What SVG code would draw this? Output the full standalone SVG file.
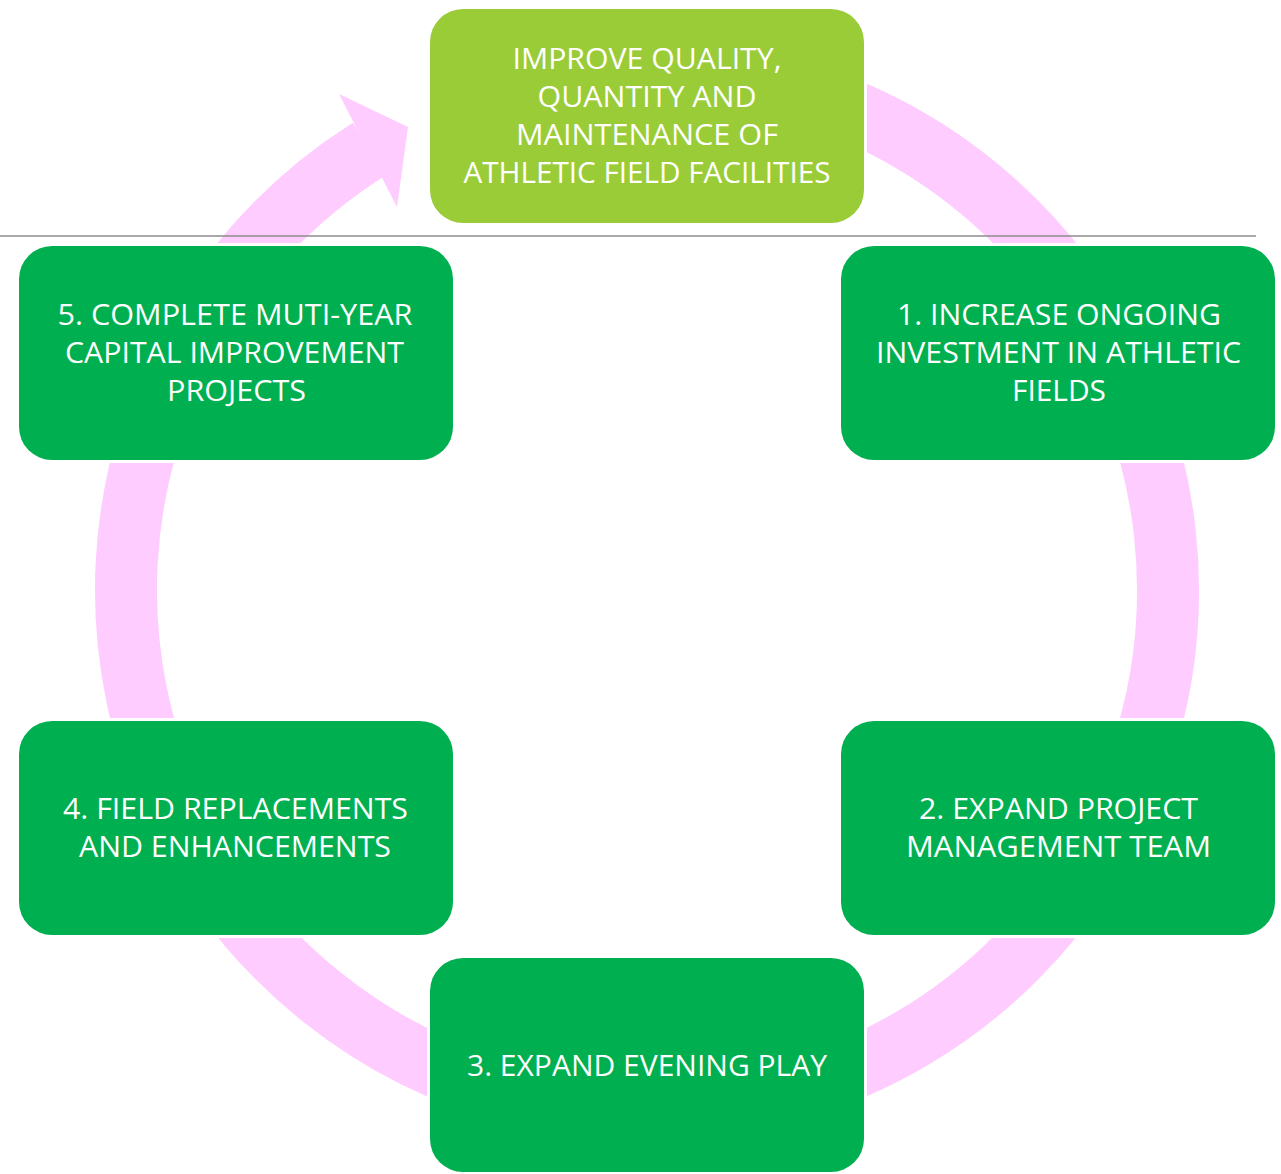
<svg xmlns="http://www.w3.org/2000/svg" width="1281" height="1174" viewBox="0 0 1281 1174">
<style>
.box{fill:#00B050;stroke:#FFFFFF;stroke-width:6;paint-order:stroke fill;}
.top{fill:#9ACC38;}
.t{font-family:"Open Sans","Liberation Sans",sans-serif;font-size:30px;fill:#FFFFFF;text-anchor:middle;}
.ring{fill:none;stroke:#FFCCFF;stroke-width:62;}
</style>
<rect width="1281" height="1174" fill="#FFFFFF"/>
<g id="connectors">
<path class="ring" d="M 647 69 A 521 521 0 1 1 369.4 149.1"/>
<polygon points="339,94 408,127 397,207" fill="#FFCCFF"/>
</g>
<line x1="0" y1="236" x2="1256" y2="236" stroke="#8C8C8C" stroke-width="1.5"/>
<g id="node-goal">
<rect class="box top" x="430" y="9" width="434" height="214" rx="33"/>
<text class="t" x="647" y="69" textLength="269" lengthAdjust="spacingAndGlyphs">IMPROVE QUALITY,</text>
<text class="t" x="647" y="107" textLength="219" lengthAdjust="spacingAndGlyphs">QUANTITY AND</text>
<text class="t" x="647" y="145" textLength="262" lengthAdjust="spacingAndGlyphs">MAINTENANCE OF</text>
<text class="t" x="647" y="183" textLength="367" lengthAdjust="spacingAndGlyphs">ATHLETIC FIELD FACILITIES</text>
</g>
<g id="node-1">
<rect class="box" x="841" y="246" width="434" height="214" rx="33"/>
<text class="t" x="1059" y="325" textLength="324" lengthAdjust="spacingAndGlyphs">1. INCREASE ONGOING</text>
<text class="t" x="1058.5" y="363" textLength="365" lengthAdjust="spacingAndGlyphs">INVESTMENT IN ATHLETIC</text>
<text class="t" x="1059" y="401" textLength="94" lengthAdjust="spacingAndGlyphs">FIELDS</text>
</g>
<g id="node-2">
<rect class="box" x="841" y="721" width="434" height="214" rx="33"/>
<text class="t" x="1058.5" y="819" textLength="279" lengthAdjust="spacingAndGlyphs">2. EXPAND PROJECT</text>
<text class="t" x="1058.5" y="857" textLength="305" lengthAdjust="spacingAndGlyphs">MANAGEMENT TEAM</text>
</g>
<g id="node-3">
<rect class="box" x="430" y="958" width="434" height="214" rx="33"/>
<text class="t" x="647" y="1076" textLength="360" lengthAdjust="spacingAndGlyphs">3. EXPAND EVENING PLAY</text>
</g>
<g id="node-4">
<rect class="box" x="19" y="721" width="434" height="214" rx="33"/>
<text class="t" x="235.5" y="819" textLength="345" lengthAdjust="spacingAndGlyphs">4. FIELD REPLACEMENTS</text>
<text class="t" x="235" y="857" textLength="312" lengthAdjust="spacingAndGlyphs">AND ENHANCEMENTS</text>
</g>
<g id="node-5">
<rect class="box" x="19" y="246" width="434" height="214" rx="33"/>
<text class="t" x="235" y="325" textLength="355" lengthAdjust="spacingAndGlyphs">5. COMPLETE MUTI-YEAR</text>
<text class="t" x="234.5" y="363" textLength="339" lengthAdjust="spacingAndGlyphs">CAPITAL IMPROVEMENT</text>
<text class="t" x="236.5" y="401" textLength="139" lengthAdjust="spacingAndGlyphs">PROJECTS</text>
</g>
</svg>
